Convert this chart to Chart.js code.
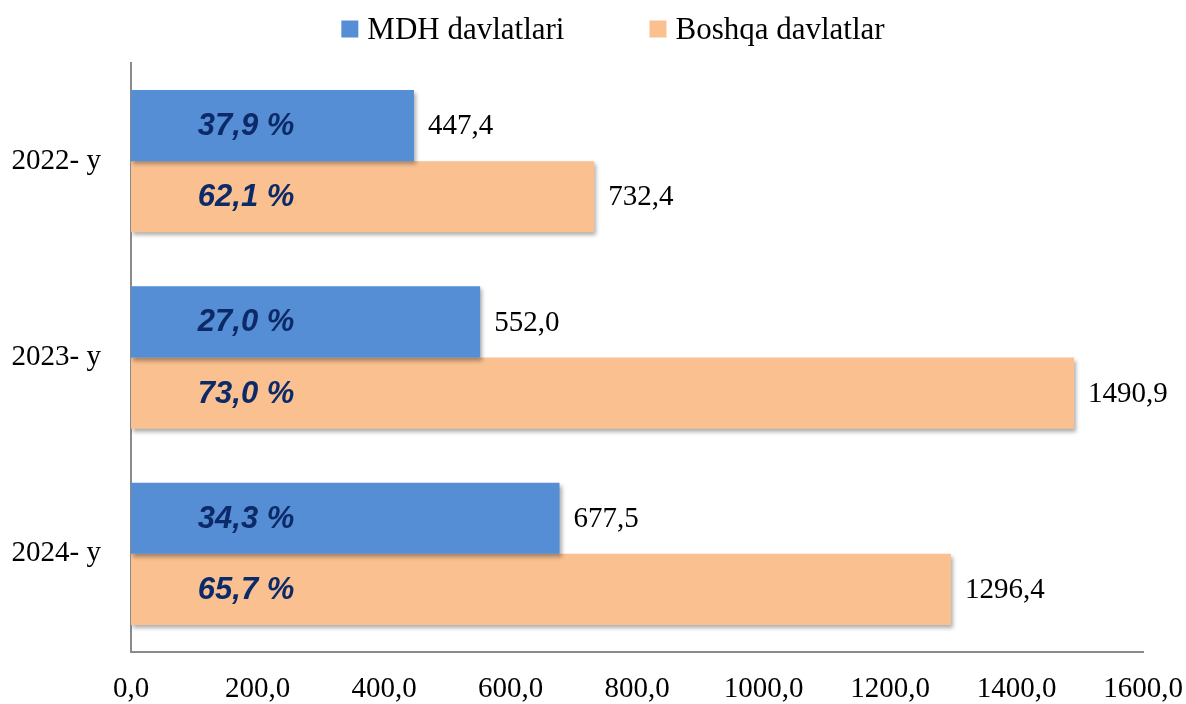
<!DOCTYPE html>
<html>
<head>
<meta charset="utf-8">
<script src="https://cdn.jsdelivr.net/npm/chart.js@4"></script>
<style>
  html, body { margin: 0; padding: 0; background: #fff; }
  #wrap { width: 1186px; height: 704px; }
</style>
</head>
<body>
<div id="wrap"><canvas id="chart"></canvas></div>
<script>
// data
const years = ["2022- y", "2023- y", "2024- y"];
const mdhValues = [447.4, 552.0, 677.5];
const otherValues = [732.4, 1490.9, 1296.4];
const mdhShares = [37.9, 27.0, 34.3];
const otherShares = [62.1, 73.0, 65.7];
const seriesNames = ["MDH davlatlari", "Boshqa davlatlar"];

const serif = "'Liberation Serif', 'Times New Roman', serif";
const comma = (v) => v.toFixed(1).replace(".", ",");

// little shadow under the bars, like the office chart
const barShadow = {
    id: "barShadow",
    beforeDatasetsDraw(chart) {
        const ctx = chart.ctx;
        ctx.save();
        ctx.shadowColor = "rgba(0,0,0,0.32)";
        ctx.shadowBlur = 4;
        ctx.shadowOffsetX = 2;
        ctx.shadowOffsetY = 3;
    },
    afterDatasetsDraw(chart) {
        chart.ctx.restore();
    }
};

// values right of bars + percent shares inside
const barLabels = {
    id: "barLabels",
    afterDatasetsDraw(chart) {
        const ctx = chart.ctx;
        const xScale = chart.scales.x;
        ctx.save();
        chart.data.datasets.forEach((ds, di) => {
            const meta = chart.getDatasetMeta(di);
            meta.data.forEach((bar, i) => {
                ctx.textBaseline = "middle";
                ctx.fillStyle = "#000";
                ctx.textAlign = "left";
                ctx.font = "29px " + serif;
                ctx.fillText(comma(ds.data[i]), bar.x + 14, bar.y + 1);

                ctx.textAlign = "center";
                ctx.fillStyle = "#0c2a68";
                ctx.font = "italic bold 31px 'Liberation Sans', Arial, sans-serif";
                ctx.fillText(comma(ds.shares[i]) + " %", xScale.getPixelForValue(182), bar.y + 1);
            });
        });
        ctx.restore();
    }
};

// legend drawn by hand so the spacing matches
const topLegend = {
    id: "topLegend",
    afterDraw(chart) {
        const ctx = chart.ctx;
        ctx.save();
        ctx.font = "31px " + serif;
        ctx.textBaseline = "middle";
        ctx.textAlign = "left";
        const box = 17, gap = 9, between = 85;
        const widths = chart.data.datasets.map(ds => box + gap + ctx.measureText(ds.label).width);
        const total = widths.reduce((a, b) => a + b, 0) + between * (widths.length - 1);
        let x = chart.width / 2 + 20 - total / 2;
        const y = 30;
        chart.data.datasets.forEach((ds, i) => {
            ctx.fillStyle = ds.backgroundColor;
            ctx.fillRect(x, y - box / 2 - 1, box, box);
            ctx.fillStyle = "#000";
            ctx.fillText(ds.label, x + box + gap, y + 1);
            x += widths[i] + between;
        });
        ctx.restore();
    }
};

new Chart(document.getElementById("chart"), {
    type: "bar",
    data: {
        labels: years,
        datasets: [
            {
                label: seriesNames[0],
                data: mdhValues,
                shares: mdhShares,
                backgroundColor: "#558ed5",
            },
            {
                label: seriesNames[1],
                data: otherValues,
                shares: otherShares,
                backgroundColor: "#fac090",
            }
        ]
    },
    options: {
        indexAxis: "y",
        responsive: true,
        maintainAspectRatio: false,
        animation: false,
        categoryPercentage: 0.725,
        barPercentage: 1,
        layout: { padding: { top: 63, right: 0, left: 0, bottom: 0 } },
        plugins: {
            legend: { display: false },
            tooltip: { enabled: false }
        },
        scales: {
            x: {
                min: 0,
                max: 1600,
                grid: { display: false, drawTicks: false },
                border: { color: "#8a8a8a", width: 2 },
                ticks: {
                    stepSize: 200,
                    padding: 20,
                    color: "#000",
                    font: { family: serif, size: 29 },
                    callback: (v) => comma(v)
                },
                afterFit(scale) {
                    scale.height = 52;
                    scale.paddingRight = 43;
                }
            },
            y: {
                grid: { display: false, drawTicks: false },
                border: { color: "#8a8a8a", width: 2 },
                ticks: {
                    padding: 30,
                    color: "#000",
                    font: { family: serif, size: 29 }
                },
                afterFit(scale) { scale.width = 131; }
            }
        }
    },
    plugins: [barShadow, barLabels, topLegend]
});
</script>
</body>
</html>
